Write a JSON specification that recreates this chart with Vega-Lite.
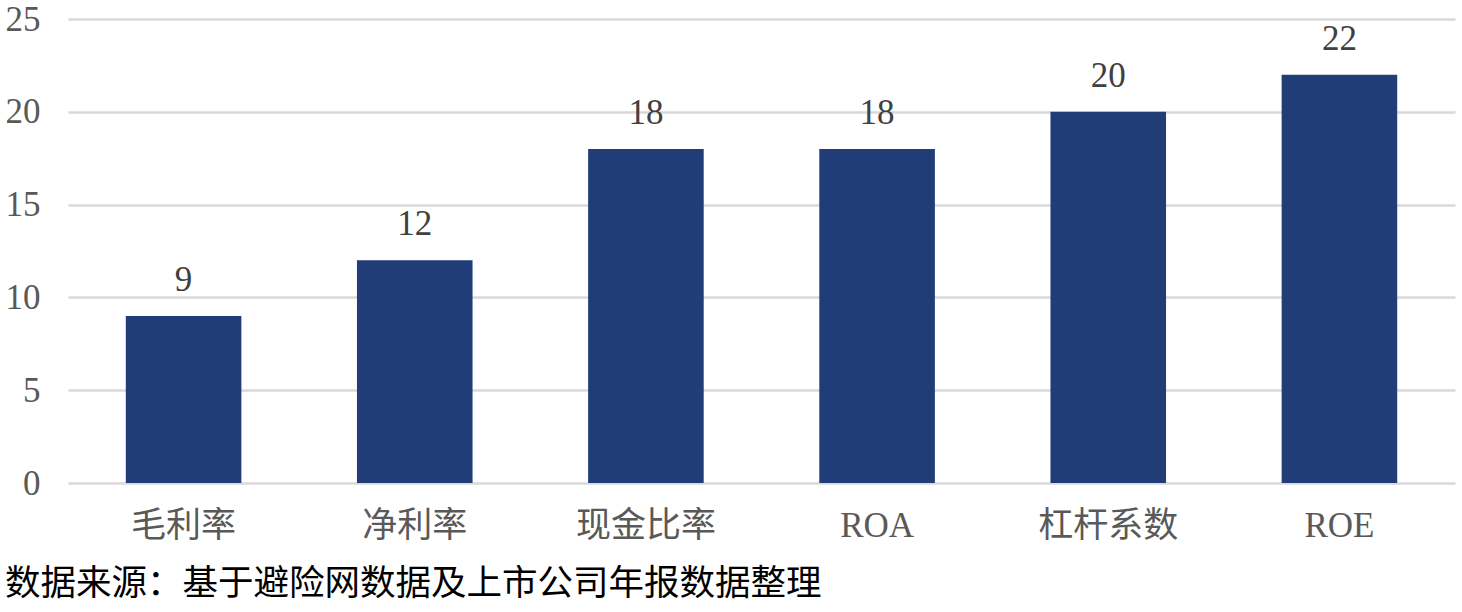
{
  "$schema": "https://vega.github.io/schema/vega-lite/v6.json",
  "autosize": {"type": "none"},
  "width": 1387,
  "height": 464,
  "padding": {"left": 68, "top": 19, "right": 7, "bottom": 129},
  "background": "white",
  "data": {"values": [
    {"metric": "毛利率", "score": 9},
    {"metric": "净利率", "score": 12},
    {"metric": "现金比率", "score": 18},
    {"metric": "ROA", "score": 18},
    {"metric": "杠杆系数", "score": 20},
    {"metric": "ROE", "score": 22}
  ]},
  "title": {
    "text": "数据来源：基于避险网数据及上市公司年报数据整理",
    "orient": "bottom",
    "anchor": "start",
    "frame": "group",
    "dx": -63,
    "offset": 24,
    "font": "Noto Sans CJK SC",
    "fontSize": 35.5,
    "fontWeight": "normal",
    "color": "#000000"
  },
  "config": {"view": {"stroke": null}},
  "encoding": {
    "x": {
      "field": "metric", "type": "nominal", "sort": null,
      "scale": {"paddingInner": 0.5, "paddingOuter": 0.25},
      "axis": {
        "title": null, "labelAngle": 0, "domain": false, "ticks": false,
        "labelPadding": 25, "labelFont": "Liberation Serif, Noto Sans CJK SC",
        "labelFontSize": 35, "labelColor": "#595959", "grid": false
      }
    },
    "y": {
      "field": "score", "type": "quantitative",
      "scale": {"domain": [0, 25]},
      "axis": {
        "title": null, "values": [0, 5, 10, 15, 20, 25], "domain": false, "ticks": false,
        "labelPadding": 28, "labelFont": "Liberation Serif", "labelFontSize": 35,
        "labelColor": "#595959", "gridColor": "#d9d9d9", "gridWidth": 2.5
      }
    }
  },
  "layer": [
    {"mark": {"type": "bar", "color": "#213D78"}},
    {"mark": {"type": "text", "dy": -36, "font": "Liberation Serif", "fontSize": 35, "color": "#404040"},
     "encoding": {"text": {"field": "score", "type": "quantitative"}}}
  ]
}
